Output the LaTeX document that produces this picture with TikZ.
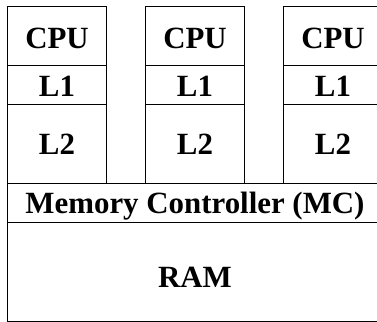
\documentclass[tikz,border=0pt]{standalone}
\usepackage{fontspec}
\setmainfont{Liberation Serif}
\usepackage{tikz}

\begin{document}
\begin{tikzpicture}[x=1bp,y=-1bp,
	cell/.style={draw=black, line width=1bp, inner sep=0pt, minimum width=99bp,
		text height=20.5bp, text depth=0pt, font=\fontsize{31}{36}\selectfont\bfseries},
	wide/.style={cell, minimum width=375bp}]
	\useasboundingbox (0,0) rectangle (377,322);
	\clip (0,0) rectangle (377,322);
	\node[cell,minimum height=59bp,text height=26bp] (cpuA) at (57,35.5) {CPU};
	\node[cell,minimum height=59bp,text height=26bp] (cpuB) at (195,35.5) {CPU};
	\node[cell,minimum height=59bp,text height=26bp] (cpuC) at (333,35.5) {CPU};
	\node[cell,minimum height=39.5bp,text height=24bp] (lA) at (57,84.75) {L1};
	\node[cell,minimum height=39.5bp,text height=24bp] (lB) at (195,84.75) {L1};
	\node[cell,minimum height=39.5bp,text height=24bp] (lC) at (333,84.75) {L1};
	\node[cell,minimum height=79bp] (llA) at (57,144) {L2};
	\node[cell,minimum height=79bp] (llB) at (195,144) {L2};
	\node[cell,minimum height=79bp] (llC) at (333,144) {L2};
	\node[wide,minimum height=39bp,text height=21.5bp] (mc) at (195,203) {Memory Controller (MC)};
	\node[wide,minimum height=98.5bp,text height=30.5bp] (ram) at (195,271.75) {RAM};
\end{tikzpicture}
\end{document}
